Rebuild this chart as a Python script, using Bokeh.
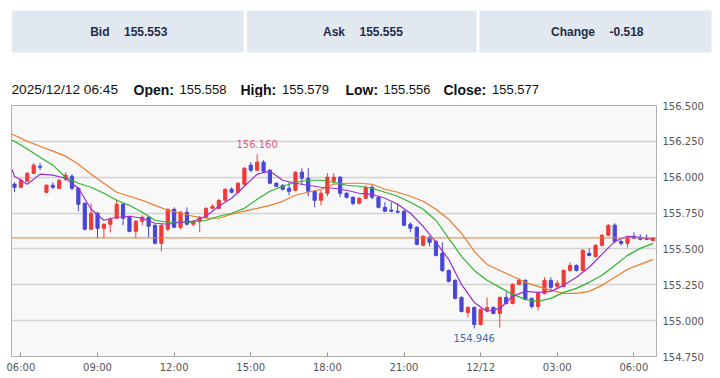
import pandas as pd
from bokeh.plotting import figure
from bokeh.layouts import column
from bokeh.models import Range1d, FixedTicker, Span, Label, ColumnDataSource, PrintfTickFormatter
from bokeh.core.properties import value
from bokeh.embed import file_html
from bokeh.resources import INLINE

# ---------------- data ----------------
quote_labels = ["Bid", "Ask", "Change"]
quote_values = ["155.553", "155.555", "-0.518"]

bar_time = "2025/12/12 06:45"

opens = [155.951, 155.930, 155.972, 156.028, 156.077, 155.895, 155.944, 155.923, 155.986, 156.007,
         155.923, 155.818, 155.637, 155.749, 155.644, 155.672, 155.714, 155.811, 155.721, 155.623,
         155.693, 155.721, 155.665, 155.539, 155.637, 155.776, 155.651, 155.756, 155.672, 155.693,
         155.721, 155.783, 155.783, 155.839, 155.916, 155.895, 155.951, 156.084, 156.049, 156.105,
         156.049, 155.958, 155.944, 155.923, 155.909, 156.035, 155.993, 155.902, 155.839, 155.888,
         155.972, 156.000, 155.888, 155.860, 155.818, 155.853, 155.930, 155.860, 155.790, 155.770,
         155.763, 155.763, 155.672, 155.651, 155.525, 155.581, 155.553, 155.469, 155.350, 155.281,
         155.162, 155.057, 155.092, 154.973, 155.071, 155.092, 155.050, 155.162, 155.120, 155.253,
         155.281, 155.155, 155.099, 155.190, 155.281, 155.239, 155.239, 155.350, 155.385, 155.350,
         155.469, 155.448, 155.525, 155.595, 155.665, 155.553, 155.539, 155.588, 155.574, 155.574,
         155.558]
highs = [155.965, 155.993, 156.035, 156.098, 156.098, 155.951, 155.965, 155.986, 156.035, 156.021,
         155.930, 155.825, 155.818, 155.756, 155.679, 155.721, 155.846, 155.818, 155.728, 155.700,
         155.735, 155.728, 155.672, 155.672, 155.783, 155.790, 155.763, 155.790, 155.700, 155.728,
         155.790, 155.811, 155.846, 155.923, 155.930, 155.965, 156.070, 156.105, 156.160, 156.119,
         156.056, 155.965, 155.951, 155.965, 156.042, 156.063, 156.063, 155.909, 155.909, 156.028,
         156.028, 156.007, 155.895, 155.867, 155.860, 155.944, 155.951, 155.867, 155.825, 155.825,
         155.818, 155.770, 155.686, 155.658, 155.595, 155.588, 155.560, 155.546, 155.357, 155.288,
         155.169, 155.099, 155.099, 155.085, 155.162, 155.099, 155.169, 155.197, 155.260, 155.295,
         155.288, 155.162, 155.197, 155.302, 155.302, 155.281, 155.357, 155.406, 155.392, 155.497,
         155.504, 155.532, 155.602, 155.672, 155.679, 155.560, 155.588, 155.616, 155.602, 155.602,
         155.579]
lows = [155.895, 155.923, 155.965, 156.021, 156.049, 155.888, 155.916, 155.916, 155.972, 155.909,
        155.763, 155.630, 155.630, 155.574, 155.574, 155.616, 155.707, 155.665, 155.616, 155.574,
        155.665, 155.581, 155.532, 155.483, 155.623, 155.644, 155.637, 155.665, 155.658, 155.616,
        155.714, 155.776, 155.776, 155.832, 155.888, 155.888, 155.944, 156.035, 156.042, 156.035,
        155.951, 155.930, 155.909, 155.874, 155.902, 155.944, 155.867, 155.790, 155.804, 155.867,
        155.951, 155.860, 155.853, 155.804, 155.811, 155.846, 155.846, 155.783, 155.756, 155.756,
        155.749, 155.658, 155.616, 155.525, 155.518, 155.518, 155.448, 155.337, 155.267, 155.148,
        155.057, 155.022, 154.946, 154.966, 155.057, 155.043, 154.952, 155.113, 155.113, 155.246,
        155.141, 155.085, 155.071, 155.183, 155.211, 155.225, 155.232, 155.343, 155.343, 155.343,
        155.448, 155.441, 155.518, 155.588, 155.539, 155.525, 155.511, 155.567, 155.560, 155.560,
        155.556]
closes = [155.930, 155.979, 156.028, 156.084, 156.070, 155.944, 155.930, 155.979, 156.014, 155.923,
          155.811, 155.637, 155.749, 155.644, 155.672, 155.707, 155.811, 155.714, 155.623, 155.693,
          155.721, 155.658, 155.539, 155.665, 155.776, 155.651, 155.756, 155.672, 155.693, 155.721,
          155.783, 155.797, 155.839, 155.916, 155.895, 155.958, 156.063, 156.049, 156.105, 156.042,
          155.958, 155.937, 155.916, 155.902, 156.035, 155.993, 155.902, 155.839, 155.888, 156.000,
          156.000, 155.888, 155.860, 155.818, 155.853, 155.930, 155.860, 155.790, 155.763, 155.763,
          155.756, 155.665, 155.644, 155.532, 155.588, 155.546, 155.455, 155.350, 155.274, 155.155,
          155.064, 155.092, 154.973, 155.078, 155.092, 155.050, 155.162, 155.120, 155.253, 155.281,
          155.148, 155.099, 155.190, 155.281, 155.232, 155.260, 155.350, 155.385, 155.350, 155.490,
          155.455, 155.525, 155.595, 155.665, 155.553, 155.539, 155.581, 155.574, 155.567, 155.567,
          155.577]

ma_short = [156.056, 156.007, 155.951, 156.021, 156.014, 155.993, 155.923, 155.777, 155.700, 155.721,
            155.728, 155.714, 155.679, 155.672, 155.686, 155.693, 155.728, 155.797, 155.853, 155.937,
            156.021, 156.042, 155.979, 155.958, 155.944, 155.930, 155.923, 155.909, 155.888, 155.881,
            155.853, 155.811, 155.749, 155.658, 155.546, 155.427, 155.253, 155.127, 155.064, 155.085,
            155.169, 155.204, 155.197, 155.204, 155.246, 155.302, 155.372, 155.462, 155.553, 155.588,
            155.581, 155.567]
ma_mid = [156.258, 156.251, 156.196, 156.140, 156.084, 156.000, 155.958, 155.930, 155.888, 155.839,
          155.804, 155.756, 155.700, 155.686, 155.686, 155.686, 155.700, 155.728, 155.749, 155.783,
          155.846, 155.902, 155.937, 155.965, 155.979, 155.979, 155.965, 155.944, 155.937, 155.923,
          155.895, 155.867, 155.825, 155.777, 155.700, 155.574, 155.448, 155.350, 155.281, 155.232,
          155.183, 155.148, 155.134, 155.155, 155.197, 155.225, 155.267, 155.316, 155.385, 155.455,
          155.504, 155.539]
ma_long = [156.300, 156.293, 156.251, 156.216, 156.182, 156.147, 156.091, 156.021, 155.958, 155.895,
           155.867, 155.839, 155.804, 155.770, 155.749, 155.728, 155.714, 155.714, 155.742, 155.763,
           155.783, 155.804, 155.832, 155.874, 155.895, 155.916, 155.951, 155.958, 155.958, 155.951,
           155.916, 155.895, 155.867, 155.832, 155.777, 155.707, 155.609, 155.483, 155.392, 155.350,
           155.309, 155.267, 155.239, 155.211, 155.190, 155.190, 155.204, 155.246, 155.302, 155.358,
           155.392, 155.427]

y_ticks = [154.75, 155.0, 155.25, 155.5, 155.75, 156.0, 156.25, 156.5]
x_tick_labels = ["06:00", "09:00", "12:00", "15:00", "18:00", "21:00", "12/12", "03:00", "06:00"]

# ---------------- time axis (hours since 2025-12-11 06:00) ----------------
T0 = pd.Timestamp("2025-12-11 06:00")
bar_times = pd.date_range("2025-12-11 05:45", periods=len(opens), freq="15min")
ma_times = pd.to_datetime(["2025-12-11 05:39"]).append(
    pd.date_range("2025-12-11 05:45", periods=len(ma_short) - 1, freq="30min"))
bx = list((bar_times - T0) / pd.Timedelta(hours=1))
mx = list((ma_times - T0) / pd.Timedelta(hours=1))
tick_hours = [3 * i for i in range(len(x_tick_labels))]

RED = "#f03a3a"
BLUE = "#4646d8"
colors = [RED if c >= o else BLUE for o, c in zip(opens, closes)]
src = ColumnDataSource(dict(
    x=bx, o=opens, h=highs, l=lows, c=closes,
    top=[max(o, c) for o, c in zip(opens, closes)],
    bot=[min(o, c) for o, c in zip(opens, closes)],
    col=colors))

# ---------------- header ----------------
FONT = value("Liberation Sans")
hdr = figure(width=720, height=97, x_range=Range1d(0, 720), y_range=Range1d(97, 0),
             toolbar_location=None, output_backend="svg", min_border=0,
             outline_line_color=None, background_fill_color="white", border_fill_color="white")
hdr.frame_align = False
hdr.axis.visible = False
hdr.grid.visible = False
hdr.quad(left=[11.5, 246.5, 479], right=[243, 476, 711], top=[10, 10, 10], bottom=[52, 52, 52],
         fill_color="#e2e8f0", line_color=None)
hdr.text(x=[109, 344.5, 594.5], y=[31, 31, 31], text=quote_labels, text_align="right",
         text_baseline="middle", text_font=FONT, text_font_style="bold", text_font_size="12px",
         text_color="#1e2c4c")
hdr.text(x=[123.5, 359, 609], y=[31, 31, 31], text=quote_values, text_align="left",
         text_baseline="middle", text_font=FONT, text_font_style="bold", text_font_size="12px",
         text_color="#1e2c4c")
last = len(opens) - 1
info_lbl = ["Open:", "High:", "Low:", "Close:"]
info_val = [f"{opens[last]:.3f}", f"{highs[last]:.3f}", f"{lows[last]:.3f}", f"{closes[last]:.3f}"]
hdr.text(x=[11], y=[89], text=[bar_time], text_align="left", text_baseline="alphabetic",
         text_font=FONT, text_font_size="13.7px", text_color="#111111")
hdr.text(x=[133, 240, 345, 443], y=[89] * 4, text=info_lbl, text_align="left",
         text_baseline="alphabetic", text_font=FONT, text_font_style="bold",
         text_font_size="14px", text_color="#111111")
hdr.text(x=[179, 281.5, 383, 491.5], y=[89] * 4, text=info_val, text_align="left",
         text_baseline="alphabetic", text_font=FONT, text_font_size="13px", text_color="#111111")

# ---------------- chart ----------------
X0, X1 = -0.368, 24.885
p = figure(width=720, height=281, x_range=Range1d(X0, X1), y_range=Range1d(154.75, 156.5),
           y_axis_location="right", toolbar_location=None, output_backend="svg",
           min_border_left=11, min_border_right=64, min_border_top=8, min_border_bottom=22,
           background_fill_color="#f8f8f8", border_fill_color="white",
           outline_line_color="#b0b0b0")
p.frame_align = False
p.xgrid.visible = False
p.ygrid.ticker = FixedTicker(ticks=y_ticks)
p.ygrid.grid_line_color = "#d2d2d2"
p.ygrid.grid_line_width = 1.5

p.yaxis.ticker = FixedTicker(ticks=y_ticks)
p.yaxis.formatter = PrintfTickFormatter(format="%.3f")
p.xaxis.ticker = FixedTicker(ticks=tick_hours)
p.xaxis.major_label_overrides = {h: lab for h, lab in zip(tick_hours, x_tick_labels)}
for ax in (p.xaxis, p.yaxis):
    ax.axis_line_color = None
    ax.minor_tick_line_color = None
    ax.major_label_text_font = "DejaVu Sans"
    ax.major_label_text_font_size = "10px"
    ax.major_label_text_color = "#555555"
p.xaxis.major_tick_in = 4
p.xaxis.major_tick_out = 0
p.xaxis.major_tick_line_color = "#999999"
p.xaxis.major_label_standoff = 5
p.yaxis.major_tick_in = 0
p.yaxis.major_tick_out = 0
p.yaxis.major_label_standoff = 6

p.segment(x0="x", y0="l", x1="x", y1="h", color="col", line_width=1, source=src)
p.vbar(x="x", width=0.125, top="top", bottom="bot", fill_color="col", line_color="col",
       line_width=1, source=src)

p.line(mx, ma_long, color="#f07a2a", line_width=1.2)
p.line(mx, ma_mid, color="#2fb42f", line_width=1.2)
p.line(mx, ma_short, color="#9a2fd6", line_width=1.2)

cur = closes[last]
p.add_layout(Span(location=cur, dimension="width", line_color="#f07a2a", line_width=1))
p.add_layout(Label(x=X1, y=cur, x_offset=1, text=f"{cur:.3f}", text_align="left",
                   text_baseline="middle", text_color="white", text_font="Liberation Sans",
                   text_font_style="bold", text_font_size="12px",
                   background_fill_color="#f07a2a", padding=3))

ih = highs.index(max(highs))
il = lows.index(min(lows))
p.text(x=[bx[ih]], y=[highs[ih]], text=[f"{highs[ih]:.3f}"], y_offset=-6, text_align="center",
       text_baseline="bottom", text_font=value("DejaVu Sans"), text_font_size="10px",
       text_color="#e05a80")
p.text(x=[bx[il]], y=[lows[il]], text=[f"{lows[il]:.3f}"], y_offset=6, text_align="center",
       text_baseline="top", text_font=value("DejaVu Sans"), text_font_size="10px",
       text_color="#3a6db5")

layout = column(hdr, p)
open("out.html", "w").write(file_html(layout, INLINE))
